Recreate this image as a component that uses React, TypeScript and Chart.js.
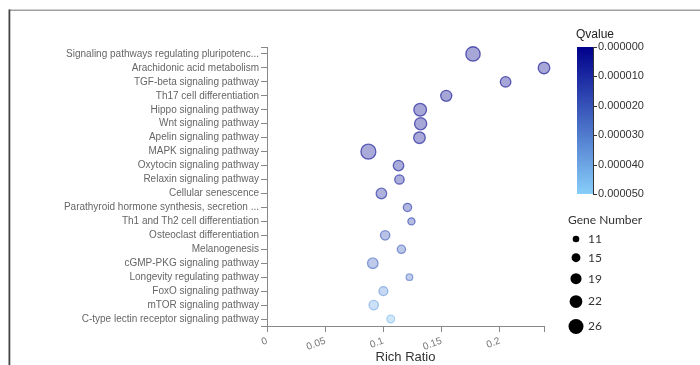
import React, { useEffect, useRef } from "react";
import { Chart, registerables } from "chart.js";

Chart.register(...registerables);

const categories = [
  "Signaling pathways regulating pluripotenc...",
  "Arachidonic acid metabolism",
  "TGF-beta signaling pathway",
  "Th17 cell differentiation",
  "Hippo signaling pathway",
  "Wnt signaling pathway",
  "Apelin signaling pathway",
  "MAPK signaling pathway",
  "Oxytocin signaling pathway",
  "Relaxin signaling pathway",
  "Cellular senescence",
  "Parathyroid hormone synthesis, secretion ...",
  "Th1 and Th2 cell differentiation",
  "Osteoclast differentiation",
  "Melanogenesis",
  "cGMP-PKG signaling pathway",
  "Longevity regulating pathway",
  "FoxO signaling pathway",
  "mTOR signaling pathway",
  "C-type lectin receptor signaling pathway",
];

const richRatio = [
  0.177, 0.238, 0.205, 0.154, 0.1316, 0.132, 0.131, 0.0871, 0.113, 0.1138,
  0.0983, 0.1207, 0.1241, 0.1015, 0.1155, 0.0909, 0.1224, 0.1, 0.0917, 0.1063,
];

const geneNumber = [25, 20, 18, 19, 22, 21, 20, 26, 18, 16, 18, 14, 12, 16, 14, 18, 11, 15, 16, 13];

const qValue = [
  0.0000001, 0.0000002, 0.0000003, 0.0000005, 0.000001, 0.000001, 0.000002,
  0.000003, 0.000004, 0.000005, 0.000008, 0.000012, 0.000015, 0.00002,
  0.000022, 0.000025, 0.000028, 0.000035, 0.00004, 0.000045,
];

const xTicks = [0, 0.05, 0.1, 0.15, 0.2];
const xMax = 0.238;
const qTicks = [0, 0.00001, 0.00002, 0.00003, 0.00004, 0.00005];
const qMax = 0.00005;
const geneLegend = [11, 15, 19, 22, 26];

const FONT = "'Liberation Sans', Arial, sans-serif";
const NAVY = [0, 0, 139];
const LIGHT = [135, 206, 250];

function qColor(q: number, alpha: number) {
  const t = Math.max(0, Math.min(1, q / qMax));
  const c = NAVY.map((v, i) => Math.round(v + (LIGHT[i] - v) * t));
  return `rgba(${c[0]},${c[1]},${c[2]},${alpha})`;
}

function radiusOf(g: number) {
  return 3.3 + (g - 11) * 0.28;
}

const decorPlugin = {
  id: "decor",
  beforeDraw(chart: any) {
    const ctx = chart.ctx;
    ctx.save();
    ctx.fillStyle = "#a0a0a0";
    ctx.fillRect(9, 9.5, 700, 1.5);
    ctx.fillStyle = "#444";
    ctx.fillRect(8.5, 9.5, 1.8, 360);
    ctx.restore();
  },
  afterDraw(chart: any) {
    const ctx = chart.ctx;
    const area = chart.chartArea;
    ctx.save();
    // outer ticks of y axis
    ctx.strokeStyle = "#888";
    ctx.lineWidth = 1;
    ctx.beginPath();
    ctx.moveTo(area.left - 6, Math.round(area.top) + 0.5);
    ctx.lineTo(area.left, Math.round(area.top) + 0.5);
    ctx.moveTo(area.left - 6, Math.round(area.bottom) + 0.5);
    ctx.lineTo(area.left, Math.round(area.bottom) + 0.5);
    ctx.stroke();

    // Qvalue colour bar
    const barX = 577;
    const barW = 16;
    const barTop = 47;
    const barBot = 194;
    ctx.fillStyle = "#222";
    ctx.font = `12px ${FONT}`;
    ctx.textAlign = "left";
    ctx.textBaseline = "middle";
    ctx.fillText("Qvalue", 576, 35);
    const grad = ctx.createLinearGradient(0, barTop, 0, barBot);
    grad.addColorStop(0, qColor(0, 1));
    grad.addColorStop(1, qColor(qMax, 1));
    ctx.fillStyle = grad;
    ctx.fillRect(barX, barTop, barW, barBot - barTop);
    ctx.strokeStyle = "#333";
    ctx.beginPath();
    ctx.moveTo(barX + barW + 0.5, barTop);
    ctx.lineTo(barX + barW + 0.5, barBot);
    qTicks.forEach((q) => {
      const y = Math.round(barTop + (q / qMax) * (barBot - barTop)) + 0.5;
      ctx.moveTo(barX + barW, y);
      ctx.lineTo(barX + barW + 4, y);
    });
    ctx.stroke();
    ctx.fillStyle = "#333";
    ctx.font = `11px ${FONT}`;
    qTicks.forEach((q) => {
      const y = barTop + (q / qMax) * (barBot - barTop);
      ctx.fillText(q.toFixed(6), barX + barW + 5, y);
    });

    // Gene number legend
    ctx.font = `12px Lato, ${FONT}`;
    ctx.fillStyle = "#333";
    ctx.fillText("Gene Number", 568, 220);
    let y = 239;
    geneLegend.forEach((g, i) => {
      const r = radiusOf(g);
      if (i > 0) y += radiusOf(geneLegend[i - 1]) + r + 11;
      ctx.fillStyle = "#000";
      ctx.beginPath();
      ctx.arc(576, y, r, 0, Math.PI * 2);
      ctx.fill();
      ctx.fillStyle = "#333";
      ctx.fillText(String(g), 588, y);
    });
    ctx.restore();
  },
};

export default function App() {
  const ref = useRef<HTMLCanvasElement | null>(null);

  useEffect(() => {
    document.body.style.margin = "0";
    const canvas = ref.current;
    if (!canvas) return;
    const chart = new Chart(canvas, {
      type: "scatter",
      data: {
        labels: categories,
        datasets: [
          {
            data: categories.map((c, i) => ({ x: richRatio[i], y: c })) as any,
            pointRadius: (ctx: any) => radiusOf(geneNumber[ctx.dataIndex]),
            pointHoverRadius: (ctx: any) => radiusOf(geneNumber[ctx.dataIndex]),
            backgroundColor: (ctx: any) => qColor(qValue[ctx.dataIndex], 0.35),
            borderColor: (ctx: any) => qColor(qValue[ctx.dataIndex], 0.6),
            borderWidth: 1.3,
            clip: false,
          } as any,
        ],
      },
      options: {
        animation: false,
        responsive: false,
        maintainAspectRatio: false,
        layout: { padding: { top: 47, right: 156, left: 0, bottom: 0 } },
        plugins: { legend: { display: false }, tooltip: { enabled: false } },
        scales: {
          x: {
            type: "linear",
            min: 0,
            max: xMax,
            afterBuildTicks: (scale: any) => {
              scale.ticks = [...xTicks, xMax].map((v) => ({ value: v }));
            },
            afterFit: (scale: any) => {
              scale.height = 39;
            },
            ticks: {
              minRotation: 20,
              maxRotation: 20,
              padding: 3,
              color: "#777",
              font: { family: FONT, size: 10 },
              callback: (v: any) => (Math.abs(v - xMax) < 1e-9 ? "" : String(v)),
            },
            grid: {
              display: true,
              drawOnChartArea: false,
              drawTicks: true,
              tickLength: 6,
              color: "#888",
            },
            border: { display: true, color: "#888", width: 1 },
            title: {
              display: true,
              text: "Rich Ratio",
              color: "#333",
              font: { family: FONT, size: 13 },
              padding: { top: 0, bottom: 0 },
            },
          },
          y: {
            type: "category",
            labels: categories,
            offset: true,
            afterFit: (scale: any) => {
              scale.width = 267;
            },
            ticks: {
              padding: 2,
              color: "#666",
              font: { family: FONT, size: 10 },
              autoSkip: false,
            },
            grid: {
              display: true,
              offset: false,
              drawOnChartArea: false,
              drawTicks: true,
              tickLength: 6,
              color: "#888",
            },
            border: { display: true, color: "#888", width: 1 },
          },
        },
      } as any,
      plugins: [decorPlugin],
    });
    return () => chart.destroy();
  }, []);

  return (
    <div style={{ position: "fixed", left: 0, top: 0, width: 700, height: 365, background: "#fff" }}>
      <canvas ref={ref} width={700} height={365} style={{ width: 700, height: 365, display: "block" }} />
    </div>
  );
}
